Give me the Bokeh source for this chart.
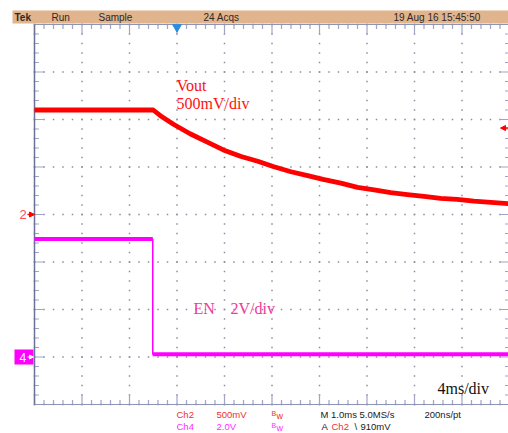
from bokeh.plotting import figure
from bokeh.models import Range1d, Label, BoxAnnotation, Arrow, NormalHead
from bokeh.embed import file_html
from bokeh.resources import INLINE

# ---- data ----
# time in ms (4 ms/div), Vout in volts (500 mV/div, ground at centre line)
vout_t = [0, 10.0, 10.6, 11.7, 13.1, 14.6, 15.9, 17.4, 18.8, 20.1, 21.6, 23.0, 24.3,
          25.8, 27.2, 28.6, 30.0, 31.4, 32.8, 34.2, 35.6, 37.0, 39.9]
vout_v = [1.10, 1.10, 1.04, 0.95, 0.85, 0.76, 0.68, 0.61, 0.56, 0.505, 0.45, 0.41, 0.37,
          0.33, 0.285, 0.26, 0.23, 0.21, 0.19, 0.17, 0.16, 0.14, 0.115]
# EN in volts (2 V/div, ground one division above the bottom)
en_t = [0, 9.96, 9.96, 39.9]
en_v = [4.97, 4.97, 0.12, 0.12]
trigger_t = 12.0          # ms
trigger_level = 0.91      # V (Ch2)
ch2_ground = 0.0
ch4_ground = 0.0

header_texts = ["Tek", "Run", "Sample", "24 Acqs", "19 Aug 16 15:45:50"]
x_major = list(range(0, 41, 4))                       # ms, one per division
x_minor = [round(i * 0.8, 2) for i in range(0, 51)]   # 1/5 division
y_major = [round(-2 + 0.5 * i, 2) for i in range(9)]  # V (Ch2 scale)
y_minor = [round(-2 + 0.1 * i, 2) for i in range(41)]

# ---- figure: the frame covers the whole canvas ----
W, H = 508, 433
PX_T = 4 / 47.5     # ms per pixel  (47.5 px per division)
PX_V = 0.5 / 47.5   # V per pixel (Ch2)
p = figure(width=W, height=H, output_backend="svg", toolbar_location=None,
           x_range=Range1d(-34 * PX_T, (W - 34) * PX_T),
           y_range=Range1d(-(H - 214) * PX_V, 214 * PX_V),
           x_axis_location=None, y_axis_location=None, min_border=0)
p.extra_y_ranges = {"en": Range1d(-(H - 356.5) * 4 * PX_V, 356.5 * 4 * PX_V)}
p.outline_line_color = None
p.background_fill_color = "white"
p.border_fill_color = "white"
p.grid.visible = False

# dotted graticule: dots every 1/5 division along every division line
dx = [x for x in x_major for _ in y_minor] + [x for _ in y_major for x in x_minor]
dy = [y for _ in x_major for y in y_minor] + [y for y in y_major for _ in x_minor]
p.scatter(dx, dy, marker="square", size=1.5, fill_color="#8C8CA2", line_color=None)

# graticule edge ticks
def tlen(v, majors):
    return 10 if v in majors else 4.5
tick_col = "#A2A4C6"
lt = [tlen(y, y_major) for y in y_minor]
bt = [tlen(x, x_major) for x in x_minor]
p.segment(x0=[0] * len(y_minor), x1=[l * PX_T for l in lt], y0=y_minor, y1=y_minor,
          line_color=tick_col, line_width=1.2)
p.segment(x0=[40] * len(y_minor), x1=[40 - l * PX_T for l in lt], y0=y_minor, y1=y_minor,
          line_color=tick_col, line_width=1.2)
p.segment(x0=x_minor, x1=x_minor, y0=[2] * len(x_minor), y1=[2 - l * PX_V for l in bt],
          line_color=tick_col, line_width=1.2)
p.segment(x0=x_minor, x1=x_minor, y0=[-2] * len(x_minor), y1=[-2 + l * PX_V for l in bt],
          line_color=tick_col, line_width=1.2)
# graticule border
p.segment(x0=[0, 0], x1=[40, 40], y0=[2, -2], y1=[2, -2], line_color="#8E94B4", line_width=1.2)
p.segment(x0=[0, 40], x1=[0, 40], y0=[-2, -2], y1=[2, 2], line_color="#6A7396", line_width=1.5)

# ---- traces ----
p.line(vout_t, vout_v, line_color="#FF0000", line_width=4.8, line_join="round")
p.line(en_t, en_v, line_color="#FF00FF", line_width=1.5, y_range_name="en")
p.line(en_t[:2], en_v[:2], line_color="#FF00FF", line_width=4, y_range_name="en")
p.line(en_t[2:], en_v[2:], line_color="#FF00FF", line_width=4, y_range_name="en")

# trigger position marker
p.scatter([trigger_t], [2 - 2.5 * PX_V], marker="inverted_triangle", size=9,
          fill_color="#2A8EE0", line_color="#2A8EE0")

# ---- header bar ----
p.add_layout(BoxAnnotation(left=12, right=W, top=10, bottom=23,
                           left_units="canvas", right_units="canvas",
                           top_units="canvas", bottom_units="canvas",
                           fill_color="#E0B48C", fill_alpha=1, line_color=None))

def lab(x, y, text, size="10px", color="#302828", font="Liberation Sans", style="normal",
        align="left", xu="canvas", yu="canvas", **kw):
    l = Label(x=x, y=y, x_units=xu, y_units=yu, text=text, text_font=font,
              text_font_size=size, text_color=color, text_font_style=style,
              text_align=align, text_baseline="middle", **kw)
    p.add_layout(l)
    return l

hx = [14, 51, 98, 203, 393]
for x, t in zip(hx, header_texts):
    lab(x, 16.5, t, style="bold" if t == "Tek" else "normal")

# ---- in-graticule annotations ----
lab(176, 85, "Vout", size="16px", color="#FF1010", font="Liberation Serif")
lab(176, 103, "500mV/div", size="16px", color="#FF1010", font="Liberation Serif")
lab(193, 308, "EN", size="16px", color="#EE3A9B", font="Liberation Serif")
lab(230, 308, "2V/div", size="16px", color="#EE3A9B", font="Liberation Serif")
lab(437, 388, "4ms/div", size="16px", color="#111111", font="Liberation Serif")

# channel ground markers
lab(19, ch2_ground, "2", size="13px", color="#FF5050", yu="data")
p.add_layout(Arrow(x_start=-7 * PX_T, x_end=0, y_start=ch2_ground, y_end=ch2_ground,
                   line_color="#FF0000", line_width=1.5,
                   end=NormalHead(size=5, fill_color="#FF0000", line_color="#FF0000")))
p.rect(x=[-10.5 * PX_T], y=[ch4_ground], width=19, height=15, width_units="screen",
       height_units="screen", fill_color="#FF00FF", line_color=None, y_range_name="en")
lab(19, ch4_ground, "4", size="12px", color="white", yu="data", y_range_name="en")
p.add_layout(Arrow(x_start=-7 * PX_T, x_end=-1 * PX_T, y_start=ch4_ground, y_end=ch4_ground,
                   y_range_name="en", line_color="white", line_width=1.2,
                   end=NormalHead(size=4, fill_color="white", line_color="white")))
# trigger level marker (right edge)
p.add_layout(Arrow(x_start=(W - 34) * PX_T, x_end=(W - 42) * PX_T,
                   y_start=trigger_level, y_end=trigger_level,
                   line_color="#FF0000", line_width=1.5,
                   end=NormalHead(size=5, fill_color="#FF0000", line_color="#FF0000")))

# ---- bottom status lines ----
r1, r2 = 414, 426
fs = "9.5px"
red, mag, blk = "#F03030", "#FF30FF", "#202020"
lab(176, r1, "Ch2", size=fs, color=red)
lab(216, r1, "500mV", size=fs, color=red)
lab(271, r1 - 1, "B", size="7px", color=red)
lab(276, r1 + 1, "w", size="9px", color=red)
lab(320, r1, "M 1.0ms 5.0MS/s", size=fs, color=blk)
lab(424, r1, "200ns/pt", size=fs, color=blk)
lab(176, r2, "Ch4", size=fs, color=mag)
lab(216, r2, "2.0V", size=fs, color=mag)
lab(271, r2 - 1, "B", size="7px", color=mag)
lab(276, r2 + 1, "w", size="9px", color=mag)
lab(321, r2, "A", size=fs, color=blk)
lab(331, r2, "Ch2", size=fs, color=red)
lab(354, r2, "\\", size=fs, color=blk)
lab(360, r2, "910mV", size=fs, color=blk)

open("out.html", "w").write(file_html(p, INLINE))
